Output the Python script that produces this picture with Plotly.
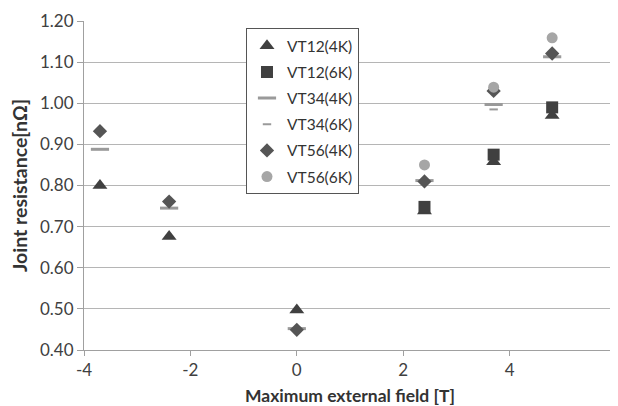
import plotly.graph_objects as go

x_field = [-3.7, -2.4, 0, 2.4, 3.7, 4.8]
vt12_4k = [0.800, 0.676, 0.497, 0.738, 0.858, 0.970]
vt12_6k = [None, None, None, 0.748, 0.875, 0.990]
vt34_4k = [0.888, 0.745, 0.452, 0.812, 0.997, 1.113]
vt34_6k = [None, None, None, None, 0.985, None]
vt56_4k = [0.932, 0.761, 0.449, 0.810, 1.030, 1.121]
vt56_6k = [None, None, None, 0.850, 1.039, 1.159]

y_ticks = [0.40, 0.50, 0.60, 0.70, 0.80, 0.90, 1.00, 1.10, 1.20]
x_ticks = [-4, -2, 0, 2, 4, 6]

DARK = "#404040"
MID = "#9a9a9a"
LIGHT = "#a6a6a6"
FONT = "Lato, 'Open Sans', sans-serif"

series = [
    ("VT12(4K)", vt12_4k, dict(symbol="triangle-up", size=13, color=DARK)),
    ("VT12(6K)", vt12_6k, dict(symbol="square", size=12, color=DARK)),
    ("VT34(4K)", vt34_4k, dict(symbol="line-ew", size=13, color=MID, line=dict(color=MID, width=3))),
    ("VT34(6K)", vt34_6k, dict(symbol="line-ew", size=6, color=MID, line=dict(color=MID, width=2))),
    ("VT56(4K)", vt56_4k, dict(symbol="diamond", size=11, color="#555555")),
    ("VT56(6K)", vt56_6k, dict(symbol="circle", size=11, color=LIGHT)),
]

fig = go.Figure()
for i, (name, vals, mk) in enumerate(series):
    fig.add_trace(go.Scatter(
        x=x_field, y=vals, mode="markers", name=name, marker=mk,
        legendgroup=f"g{i}", cliponaxis=False,
    ))

# page body has an 8px default margin; size the figure to fit the window
fig.update_layout(
    width=610, height=398,
    margin=dict(l=76, r=2, t=13, b=56),
    paper_bgcolor="white", plot_bgcolor="white",
    font=dict(family=FONT, size=15, color="#333333"),
    legend=dict(
        x=0.3045, y=0.978, xanchor="left", yanchor="top",
        bgcolor="white", bordercolor="#555555", borderwidth=1,
        font=dict(size=15.5, color="#333333"),
        tracegroupgap=3, itemwidth=30,
    ),
    xaxis=dict(
        range=[-4, 6], tickvals=x_ticks, ticktext=[str(v) for v in x_ticks],
        showgrid=False, zeroline=False, automargin=False,
        showline=True, linecolor="#a0a0a0", linewidth=1,
        ticks="outside", ticklen=5, tickcolor="#a0a0a0",
        ticklabeloverflow="allow",
        title=dict(text="<b>Maximum external field [T]</b>", font=dict(size=17.5, color="#333333"), standoff=12),
        tickfont=dict(size=17, color="#404040"),
    ),
    yaxis=dict(
        range=[0.40, 1.20], tickvals=y_ticks, ticktext=[f"{v:.2f}" for v in y_ticks],
        showgrid=True, gridcolor="#b5b5b5", gridwidth=1, zeroline=False, automargin=False,
        showline=True, linecolor="#a0a0a0", linewidth=1,
        ticks="outside", ticklen=6, tickcolor="#a0a0a0",
        title=dict(text="<b>Joint resistance[nΩ]</b>", font=dict(size=19.5, color="#333333"), standoff=8),
        tickfont=dict(size=17, color="#404040"),
    ),
)

fig.write_html("out.html")
